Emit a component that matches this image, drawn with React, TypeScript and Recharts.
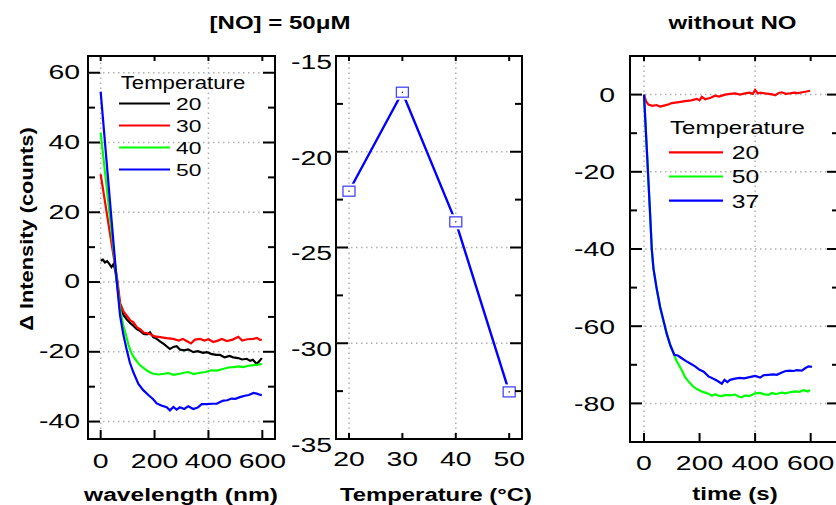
import React from 'react';
import { LineChart, Line, XAxis, YAxis, ReferenceLine, ReferenceArea } from 'recharts';

const FONT = "'Liberation Sans', Arial, Helvetica, sans-serif";

// ---------- Panel 1: [NO] = 50uM ----------
const wl20 = [0, 8, 16, 24, 32, 40, 48, 55, 62, 72, 85, 96, 110, 121, 134, 146, 160, 172, 183, 195, 208, 220, 235, 257, 270, 282, 295, 310, 325, 344, 360, 380, 394, 410, 428, 443, 460, 478, 492, 510, 525, 542, 555, 565, 579, 590, 598];
const int20 = [6.1, 6.4, 5.6, 6.0, 5.2, 4.3, 5.2, 3.0, -1.0, -6.8, -9.5, -10.6, -11.8, -12.5, -13.5, -14.0, -14.9, -15.0, -14.4, -15.8, -16.3, -17.0, -17.8, -19.2, -18.6, -18.4, -19.4, -19.6, -19.3, -20.1, -19.8, -20.3, -20.1, -20.6, -20.9, -20.9, -21.6, -21.2, -21.6, -21.8, -22.2, -22.0, -22.6, -22.3, -23.5, -22.6, -21.8];

const wl30 = [0, 63, 72, 85, 96, 110, 121, 135, 146, 160, 183, 200, 220, 245, 269, 290, 305, 319, 335, 350, 369, 385, 400, 418, 435, 450, 468, 490, 511, 525, 545, 567, 580, 590, 598];
const int30 = [30.9, 0, -6.0, -8.5, -9.6, -11.0, -11.5, -13.0, -13.5, -14.5, -14.9, -15.6, -15.8, -16.1, -16.3, -16.8, -16.3, -16.9, -17.6, -16.5, -16.3, -16.8, -16.4, -17.2, -16.8, -16.3, -16.9, -16.5, -15.7, -16.8, -16.4, -16.3, -16.0, -16.5, -16.6];

const wl40 = [0, 61, 67, 75, 84, 95, 103, 115, 127, 145, 165, 180, 195, 215, 235, 251, 270, 294, 310, 325, 345, 369, 390, 410, 431, 450, 474, 492, 515, 530, 548, 570, 585, 598];
const int40 = [42.8, 0, -4.9, -9.0, -12.5, -15.5, -18.0, -20.5, -22.0, -23.8, -25.0, -25.8, -26.3, -26.5, -26.3, -26.1, -26.6, -26.3, -26.0, -25.8, -26.4, -26.0, -25.8, -25.3, -25.4, -25.0, -24.5, -24.4, -24.2, -24.4, -24.0, -23.8, -23.7, -23.5];

const wl50 = [0, 60, 72, 84, 96, 108, 121, 140, 158, 177, 195, 208, 225, 245, 257, 270, 282, 294, 310, 325, 344, 360, 375, 395, 415, 431, 445, 455, 470, 485, 500, 517, 535, 550, 567, 580, 590, 598];
const int50 = [54.6, 0, -9.6, -15.0, -19.2, -23.0, -25.8, -29.2, -31.0, -32.4, -33.6, -34.8, -35.4, -35.9, -36.8, -35.8, -36.6, -35.9, -36.4, -35.6, -36.4, -36.0, -35.0, -35.0, -34.9, -34.9, -34.3, -34.0, -33.9, -33.4, -33.5, -33.0, -32.6, -32.4, -31.8, -32.0, -32.3, -32.4];

// ---------- Panel 2: peak vs temperature ----------
const temps = [20, 30, 40, 50];
const peakValues = [-22.06, -16.89, -23.66, -32.54];

// ---------- Panel 3: without NO ----------
const tRed20 = [0, 8, 16, 30, 45, 58, 75, 90, 100, 120, 148, 170, 190, 200, 208, 220, 240, 256, 270, 292, 310, 328, 345, 364, 380, 392, 400, 410, 418, 435, 450, 465, 472, 485, 496, 510, 525, 540, 555, 570, 585, 598];
const iRed20 = [0, -1.8, -2.6, -2.9, -2.7, -3.1, -2.8, -2.5, -2.2, -2.0, -1.7, -1.5, -1.1, -1.5, -0.6, -1.2, -0.8, -0.3, -0.5, 0, 0.2, 0.3, 0.0, 0.3, 0.5, 0.2, 1.2, 0.3, 0.5, 0.3, 0.2, 0.0, -0.2, 0.4, 0.6, 0.2, 0.3, 0.5, 0.4, 0.6, 0.8, 1.0];

const tGreen50 = [0, 10, 22, 28, 34, 45, 58, 70, 82, 95, 109, 115, 125, 136, 148, 160, 175, 190, 208, 220, 232, 245, 256, 268, 280, 295, 310, 328, 340, 352, 365, 380, 400, 418, 430, 448, 460, 475, 496, 510, 525, 544, 560, 574, 590, 598];
const iGreen50 = [0, -14, -31, -40, -45, -50, -55, -58.5, -62, -65, -67.5, -68.7, -70.0, -71.4, -73.2, -74.3, -75.5, -76.3, -76.9, -77.2, -77.5, -78.0, -77.6, -78.0, -78.1, -77.8, -77.9, -77.7, -78.2, -78.4, -77.9, -78.1, -77.4, -77.3, -77.6, -77.8, -77.3, -77.6, -77.2, -77.4, -77.1, -76.9, -77.0, -76.6, -76.9, -76.5];

const tBlue37 = [0, 10, 22, 28, 34, 45, 58, 70, 82, 95, 109, 122, 136, 150, 165, 184, 200, 215, 232, 250, 265, 280, 290, 300, 310, 328, 345, 360, 380, 400, 418, 430, 448, 465, 478, 496, 510, 525, 538, 550, 568, 580, 592, 605];
const iBlue37 = [0, -14, -31, -40, -45, -50, -55, -58.5, -62, -65, -67.4, -67.6, -68.3, -69.0, -69.6, -70.4, -71.3, -71.8, -73.0, -73.6, -74.2, -74.9, -73.9, -74.5, -73.9, -73.6, -73.4, -73.5, -73.2, -72.9, -73.3, -72.7, -72.6, -72.5, -72.6, -72.0, -71.6, -71.5, -71.6, -71.4, -71.5, -70.9, -70.4, -70.5];

// ---------- Ticks ----------
const p1YTicks = [-40, -30, -20, -10, 0, 10, 20, 30, 40, 50, 60];
const p1YMajor = [-40, -20, 0, 20, 40, 60];
const p1XTicks = [0, 200, 400, 600];
const p2YTicks = [-35, -32.5, -30, -27.5, -25, -22.5, -20, -17.5, -15];
const p2YMajor = [-35, -30, -25, -20, -15];
const p2XTicks = [20, 30, 40, 50];
const p3YTicks = [-80, -70, -60, -50, -40, -30, -20, -10, 0];
const p3YMajor = [-80, -60, -40, -20, 0];
const p3XTicks = [0, 200, 400, 600];

const toRows = (xs: number[], ys: number[]) => xs.map((x, i) => ({ x, y: ys[i] }));

const panel1Series = [
  { name: '20', color: '#000000', rows: toRows(wl20, int20) },
  { name: '30', color: '#ff0000', rows: toRows(wl30, int30) },
  { name: '40', color: '#00ff00', rows: toRows(wl40, int40) },
  { name: '50', color: '#0000ff', rows: toRows(wl50, int50) },
];
const panel2Rows = toRows(temps, peakValues);
const panel3Series = [
  { name: '20', color: '#ff0000', rows: toRows(tRed20, iRed20) },
  { name: '50', color: '#00ff00', rows: toRows(tGreen50, iGreen50) },
  { name: '37', color: '#0000ff', rows: toRows(tBlue37, iBlue37) },
];

// ---------- helpers ----------
function ST(props: { x: number; y: number; text: string; size: number; sx: number; anchor?: string; weight?: string; rotate?: number }) {
  const { x, y, text, size, sx, anchor = 'middle', weight = 'normal', rotate = 0 } = props;
  return (
    <text
      transform={`translate(${x},${y}) rotate(${rotate}) scale(${sx},1)`}
      x={0}
      y={0}
      textAnchor={anchor as any}
      dominantBaseline="central"
      fontFamily={FONT}
      fontSize={size}
      fontWeight={weight}
      fill="#000"
    >
      {text}
    </text>
  );
}

const NUM_SIZE = 20;
const NUM_SX = 1.42;

function makeYTick(o: { majors: number[]; far: number; gap: number; dy: number }) {
  return (p: any) => {
    const { x, y, payload } = p;
    const v = payload.value;
    const major = o.majors.includes(v);
    const len = major ? 12 : 7;
    return (
      <g>
        <line x1={x} x2={x + len} y1={y} y2={y} stroke="#000" strokeWidth={2} />
        <line x1={o.far} x2={o.far - len} y1={y} y2={y} stroke="#000" strokeWidth={2} />
        {major && <ST x={x - o.gap} y={y + o.dy} text={String(v)} size={NUM_SIZE} sx={NUM_SX} anchor="end" />}
      </g>
    );
  };
}

function makeXTick(o: { top: number; gap: number; botLen: number; topLen: number }) {
  return (p: any) => {
    const { x, y, payload } = p;
    return (
      <g>
        <line x1={x} x2={x} y1={y} y2={y - o.botLen} stroke="#000" strokeWidth={2} />
        <line x1={x} x2={x} y1={o.top} y2={o.top + o.topLen} stroke="#000" strokeWidth={2} />
        <ST x={x} y={y + o.gap} text={String(payload.value)} size={NUM_SIZE} sx={NUM_SX} />
      </g>
    );
  };
}

const GRID = { stroke: '#b0b0b0', strokeWidth: 1.5, strokeDasharray: '1.5 3.5' };

const SquareDot = (p: any) => {
  const { cx, cy } = p;
  if (cx == null || cy == null) return null;
  return (
    <g>
      <rect x={cx - 8.5} y={cy - 7.5} width={17} height={15} fill="#fff" />
      <rect x={cx - 6} y={cy - 5} width={12} height={10} fill="#fff" stroke="#4646ff" strokeWidth={1.3} />
      <rect x={cx - 0.6} y={cy - 0.6} width={1.2} height={1.2} fill="#000" />
    </g>
  );
};

const TOP = 56;

// Panel geometry (chart-local)
const P1 = { left: 0, width: 290, yW: 88, xH: 66, mr: 15, xd: [-47, 647], yd: [-45, 64.8] };
const P2 = { left: 280, width: 250, yW: 56, xH: 66, mr: 8, xd: [17.57, 52.4], yd: [-35, -15] };
const P3 = { left: 560, width: 290, yW: 70, xH: 63, mr: 11, xd: [-50.4, 702], yd: [-90, 10] };

export default function App() {
  const p1Far = P1.width - P1.mr;
  const p2Far = P2.width - P2.mr;
  const p3Far = P3.width - P3.mr;
  return (
    <div style={{ position: 'absolute', left: 0, top: 0, width: 836, height: 505, overflow: 'hidden', background: '#fff' }}>
      {/* Panel 1 */}
      <div style={{ position: 'absolute', left: P1.left, top: 0 }}>
        <LineChart width={P1.width} height={505} margin={{ top: TOP, right: P1.mr, bottom: 0, left: 0 }}>
          <XAxis type="number" dataKey="x" domain={P1.xd} allowDataOverflow ticks={p1XTicks} interval={0}
            tickSize={0} tickMargin={0} axisLine={false} tickLine={false} height={P1.xH}
            tick={makeXTick({ top: TOP, gap: 22, botLen: 9, topLen: 5 })} />
          <YAxis type="number" domain={P1.yd} allowDataOverflow ticks={p1YTicks} interval={0}
            tickSize={0} tickMargin={0} axisLine={false} tickLine={false} width={P1.yW}
            tick={makeYTick({ majors: p1YMajor, far: p1Far, gap: 8, dy: -0.5 })} />
          {[60, 40, 20, 0, -20, -40].map((v) => <ReferenceLine key={'h' + v} y={v} {...GRID} />)}
          {[0, 400].map((v) => <ReferenceLine key={'v' + v} x={v} {...GRID} />)}
          <ReferenceArea x1={P1.xd[0]} x2={P1.xd[1]} y1={P1.yd[0]} y2={P1.yd[1]} fill="none" fillOpacity={0} stroke="#000" strokeWidth={2} ifOverflow="visible" />
          {panel1Series.map((s) => (
            <Line key={s.name} data={s.rows} dataKey="y" type="linear" stroke={s.color} strokeWidth={2.2} dot={false} isAnimationActive={false} />
          ))}
        </LineChart>
      </div>

      {/* Panel 2 */}
      <div style={{ position: 'absolute', left: P2.left, top: 0 }}>
        <LineChart width={P2.width} height={505} margin={{ top: TOP, right: P2.mr, bottom: 0, left: 0 }}>
          <XAxis type="number" dataKey="x" domain={P2.xd} allowDataOverflow ticks={p2XTicks} interval={0}
            tickSize={0} tickMargin={0} axisLine={false} tickLine={false} height={P2.xH}
            tick={makeXTick({ top: TOP, gap: 20.5, botLen: 6, topLen: 5 })} />
          <YAxis type="number" domain={P2.yd} allowDataOverflow ticks={p2YTicks} interval={0}
            tickSize={0} tickMargin={0} axisLine={false} tickLine={false} width={P2.yW}
            tick={makeYTick({ majors: p2YMajor, far: p2Far, gap: 4, dy: 6 })} />
          {[-20, -25, -30].map((v) => <ReferenceLine key={'h' + v} y={v} {...GRID} />)}
          {[20, 40].map((v) => <ReferenceLine key={'v' + v} x={v} {...GRID} />)}
          <ReferenceArea x1={P2.xd[0]} x2={P2.xd[1]} y1={P2.yd[0]} y2={P2.yd[1]} fill="none" fillOpacity={0} stroke="#000" strokeWidth={2} ifOverflow="visible" />
          <Line data={panel2Rows} dataKey="y" type="linear" stroke="#0000ff" strokeWidth={2.4} dot={<SquareDot />} isAnimationActive={false} />
        </LineChart>
      </div>

      {/* Panel 3 */}
      <div style={{ position: 'absolute', left: P3.left, top: 0 }}>
        <LineChart width={P3.width} height={505} margin={{ top: TOP, right: P3.mr, bottom: 0, left: 0 }}>
          <XAxis type="number" dataKey="x" domain={P3.xd} allowDataOverflow ticks={p3XTicks} interval={0}
            tickSize={0} tickMargin={0} axisLine={false} tickLine={false} height={P3.xH}
            tick={makeXTick({ top: TOP, gap: 21, botLen: 9, topLen: 5 })} />
          <YAxis type="number" domain={P3.yd} allowDataOverflow ticks={p3YTicks} interval={0}
            tickSize={0} tickMargin={0} axisLine={false} tickLine={false} width={P3.yW}
            tick={makeYTick({ majors: p3YMajor, far: p3Far, gap: 15, dy: 0.5 })} />
          {[0, -20, -40, -60, -80].map((v) => <ReferenceLine key={'h' + v} y={v} {...GRID} />)}
          {[0, 400].map((v) => <ReferenceLine key={'v' + v} x={v} {...GRID} />)}
          <ReferenceArea x1={P3.xd[0]} x2={P3.xd[1]} y1={P3.yd[0]} y2={P3.yd[1]} fill="none" fillOpacity={0} stroke="#000" strokeWidth={2} ifOverflow="visible" />
          {panel3Series.map((s) => (
            <Line key={s.name} data={s.rows} dataKey="y" type="linear" stroke={s.color} strokeWidth={2.2} dot={false} isAnimationActive={false} />
          ))}
        </LineChart>
      </div>

      {/* Titles, axis titles and legends */}
      <svg width={836} height={505} style={{ position: 'absolute', left: 0, top: 0, pointerEvents: 'none' }}>
        <ST x={280} y={23} text="[NO] = 50μM" size={18.5} sx={1.3} weight="bold" />
        <ST x={732.5} y={23} text="without NO" size={18.5} sx={1.3} weight="bold" />
        <ST x={181} y={494.5} text="wavelength (nm)" size={18.5} sx={1.33} weight="bold" />
        <ST x={436} y={494.5} text="Temperature (°C)" size={18.5} sx={1.29} weight="bold" />
        <ST x={735} y={494} text="time (s)" size={18.5} sx={1.3} weight="bold" />
        <ST x={26.7} y={229} text="Δ Intensity (counts)" size={18.5} sx={1.18} weight="bold" rotate={-90} />

        <ST x={120.7} y={82.7} text="Temperature" size={18.5} sx={1.2} anchor="start" />
        {panel1Series.map((s, i) => (
          <g key={'l1' + s.name}>
            <line x1={119} x2={170} y1={103.5 + 22 * i} y2={103.5 + 22 * i} stroke={s.color} strokeWidth={2.2} />
            <ST x={176} y={104 + 22 * i} text={s.name} size={16.5} sx={1.38} anchor="start" />
          </g>
        ))}

        <ST x={670} y={128.3} text="Temperature" size={18.5} sx={1.3} anchor="start" />
        {panel3Series.map((s, i) => (
          <g key={'l3' + s.name}>
            <line x1={669} x2={723} y1={152.3 + 24.2 * i} y2={152.3 + 24.2 * i} stroke={s.color} strokeWidth={2.2} />
            <ST x={731.7} y={152.8 + 24.2 * i} text={s.name} size={19} sx={1.3} anchor="start" />
          </g>
        ))}
      </svg>
    </div>
  );
}
